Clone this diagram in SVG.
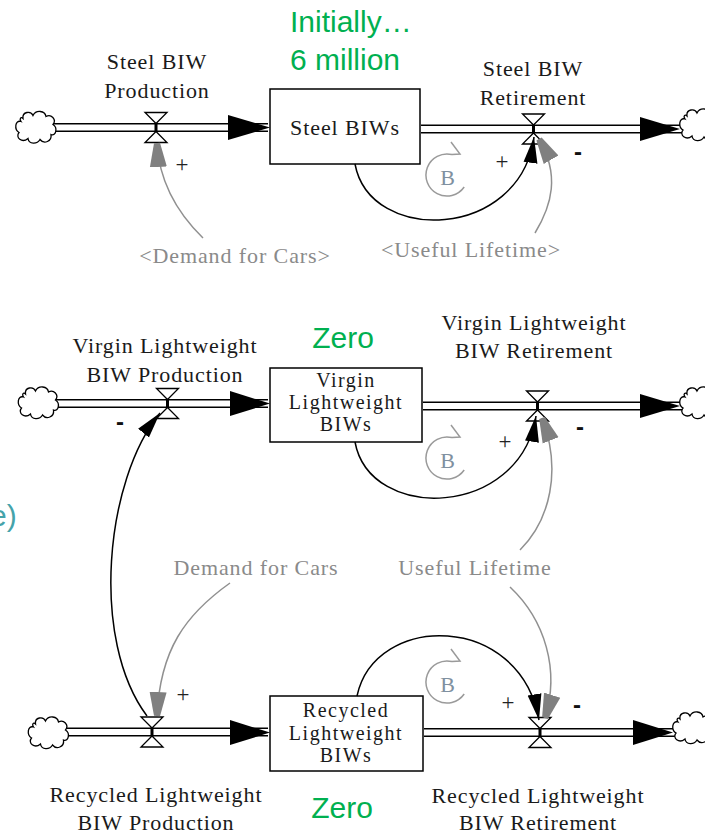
<svg xmlns="http://www.w3.org/2000/svg" xmlns:xlink="http://www.w3.org/1999/xlink" width="705" height="835" viewBox="0 0 705 835">
<style>
.lbl{font-family:"Liberation Serif","Times New Roman",serif;font-size:22px;letter-spacing:0.9px;fill:#1a1a1a;text-anchor:middle}
.bxt{font-family:"Liberation Serif","Times New Roman",serif;font-size:20px;letter-spacing:1.5px;fill:#1a1a1a;text-anchor:middle}
.gry{font-family:"Liberation Serif","Times New Roman",serif;font-size:22px;letter-spacing:0.9px;fill:#8a8a8a;text-anchor:middle}
.grn{font-family:"Liberation Sans",Arial,sans-serif;font-size:30px;fill:#00B050}
.pos{font-family:"Liberation Serif","Times New Roman",serif;font-size:23px;fill:#222;text-anchor:middle}
.neg{font-family:"Liberation Sans",Arial,sans-serif;font-size:24px;font-weight:bold;fill:#111;text-anchor:middle}
.box{fill:#fff;stroke:#000;stroke-width:1.5}
.pipeO{stroke:#000;stroke-width:9;fill:none}
.pipeI{stroke:#fff;stroke-width:6;fill:none}
.fhead{fill:#000}
.lnkB{fill:none;stroke:#000;stroke-width:1.5;marker-end:url(#ahB)}
.lnkG{fill:none;stroke:#909090;stroke-width:1.5;marker-end:url(#ahG)}
.loop{fill:none;stroke:#9a9a9a;stroke-width:1.5}
.loopT{font-family:"Liberation Serif","Times New Roman",serif;font-size:22px;fill:#8090a0;text-anchor:middle}
</style>
<defs>
<marker id="ahB" markerUnits="userSpaceOnUse" markerWidth="28" markerHeight="16" refX="26" refY="8" orient="auto">
<path d="M0,1 L26,8 L0,15 Z" fill="#000"/>
</marker>
<marker id="ahG" markerUnits="userSpaceOnUse" markerWidth="26" markerHeight="18" refX="24" refY="9" orient="auto">
<path d="M0,0.5 L24,6 L24,12 L0,17.5 Z" fill="#808080"/>
</marker>
<g id="cloud">
<path d="M-13,-9 C-14,-16 -5,-17 -3,-12 C0,-18 9,-17 10,-11 C15,-14 21,-8 17,-3 C22,0 20,9 15,7 C16,14 8,17 4,12 C1,17 -7,17 -8,11 C-14,16 -21,10 -17,5 C-22,2 -21,-8 -15,-6 C-17,-9 -15,-11 -13,-9 Z" fill="#fff" stroke="#000" stroke-width="1.3"/>
</g>
<g id="valve">
<path d="M-11,-15 H11 L0,-4 Z M-11,15 H11 L0,4 Z" fill="#fff" stroke="#000" stroke-width="1.3"/>
<rect x="-1.5" y="-4.5" width="3" height="9" fill="#000"/>
</g>
<g id="loopB">
<path class="loop" d="M17.2,12 A21,21 0 1 1 5,-20.4 L13,-21 L4,-33"/>
<text class="loopT" x="0.5" y="10">B</text>
</g>
</defs>
<rect width="705" height="835" fill="#fff"/>

<g id="flows">
<line class="pipeO" x1="50" y1="127.5" x2="268" y2="127.5"/><line class="pipeI" x1="50" y1="127.5" x2="268" y2="127.5"/>
<line class="pipeO" x1="421" y1="129" x2="685" y2="129"/><line class="pipeI" x1="421" y1="129" x2="685" y2="129"/>
<line class="pipeO" x1="52" y1="403.5" x2="268" y2="403.5"/><line class="pipeI" x1="52" y1="403.5" x2="268" y2="403.5"/>
<line class="pipeO" x1="423" y1="406" x2="685" y2="406"/><line class="pipeI" x1="423" y1="406" x2="685" y2="406"/>
<line class="pipeO" x1="62" y1="732" x2="268" y2="732"/><line class="pipeI" x1="62" y1="732" x2="268" y2="732"/>
<line class="pipeO" x1="424" y1="732.5" x2="678" y2="732.5"/><line class="pipeI" x1="424" y1="732.5" x2="678" y2="732.5"/>
<polygon class="fhead" points="228,115 270,127.5 228,140"/>
<polygon class="fhead" points="640,117 680,129 640,141"/>
<polygon class="fhead" points="230,391 270,403.5 230,416"/>
<polygon class="fhead" points="640,394 680,406 640,418"/>
<polygon class="fhead" points="230,720 270,732.5 230,745"/>
<polygon class="fhead" points="633,720 673,732.5 633,745"/>
</g>

<g id="clouds">
<use xlink:href="#cloud" x="36" y="127.5"/>
<use xlink:href="#cloud" x="700" y="125"/>
<use xlink:href="#cloud" x="38.5" y="403"/>
<use xlink:href="#cloud" x="700" y="403"/>
<use xlink:href="#cloud" x="48.5" y="733"/>
<use xlink:href="#cloud" x="693" y="728"/>
</g>

<g id="green-notes">
<text class="grn" x="290" y="32">Initially…</text>
<text class="grn" x="290" y="70">6 million</text>
<text class="grn" x="343" y="348" text-anchor="middle" font-size="29">Zero</text>
<text class="grn" x="342" y="818" text-anchor="middle" font-size="29">Zero</text>
<text class="grn" x="-10" y="526" style="fill:#45A3AA">e)</text>
</g>

<g id="steel-production">
<use xlink:href="#valve" x="156" y="127.5"/>
<text class="lbl" x="157" y="69">Steel BIW</text>
<text class="lbl" x="157" y="98">Production</text>
</g>
<g id="steel-biws">
<rect class="box" x="270" y="89" width="150" height="75"/>
<text class="lbl" x="345" y="135">Steel BIWs</text>
</g>
<g id="steel-retirement">
<use xlink:href="#valve" x="533.5" y="129"/>
<text class="lbl" x="533" y="76">Steel BIW</text>
<text class="lbl" x="533" y="105">Retirement</text>
</g>
<g id="demand-shadow">
<text class="gry" x="235" y="263">&lt;Demand for Cars&gt;</text>
</g>
<g id="lifetime-shadow">
<text class="gry" x="471" y="257">&lt;Useful Lifetime&gt;</text>
</g>

<g id="virgin-production">
<use xlink:href="#valve" x="167.5" y="403.5"/>
<text class="lbl" x="165" y="353">Virgin Lightweight</text>
<text class="lbl" x="165" y="382">BIW Production</text>
</g>
<g id="virgin-biws">
<rect class="box" x="270" y="368" width="152" height="74"/>
<text class="bxt" x="346" y="387">Virgin</text>
<text class="bxt" x="346" y="409">Lightweight</text>
<text class="bxt" x="346" y="431">BIWs</text>
</g>
<g id="virgin-retirement">
<use xlink:href="#valve" x="537.5" y="406"/>
<text class="lbl" x="534" y="330">Virgin Lightweight</text>
<text class="lbl" x="534" y="358">BIW Retirement</text>
</g>
<g id="demand">
<text class="gry" x="256" y="575">Demand for Cars</text>
</g>
<g id="lifetime">
<text class="gry" x="475" y="575">Useful Lifetime</text>
</g>

<g id="recycled-production">
<use xlink:href="#valve" x="152" y="732"/>
<text class="lbl" x="156" y="802">Recycled Lightweight</text>
<text class="lbl" x="156" y="830">BIW Production</text>
</g>
<g id="recycled-biws">
<rect class="box" x="270" y="696" width="153" height="75"/>
<text class="bxt" x="346" y="717">Recycled</text>
<text class="bxt" x="346" y="739.5">Lightweight</text>
<text class="bxt" x="346" y="762">BIWs</text>
</g>
<g id="recycled-retirement">
<use xlink:href="#valve" x="540" y="732.5"/>
<text class="lbl" x="538" y="803">Recycled Lightweight</text>
<text class="lbl" x="538" y="830">BIW Retirement</text>
</g>

<g id="loops">
<use xlink:href="#loopB" x="447" y="175"/>
<use xlink:href="#loopB" x="447" y="458"/>
<use xlink:href="#loopB" x="447" y="682"/>
</g>

<g id="connectors">
<path class="lnkG" d="M203,238 Q160,196 157,143"/>
<path class="lnkB" d="M355,164 C370,245 520,240 534,137"/>
<path class="lnkG" d="M535,233 C552,205 560,175 539,139"/>
<path class="lnkB" d="M355,442 C370,523 520,518 536,416"/>
<path class="lnkG" d="M520,550 C550,520 562,470 542,418"/>
<path class="lnkB" d="M147,716 C90,640 105,480 160,413"/>
<path class="lnkG" d="M230,583 C185,615 160,650 157,716"/>
<path class="lnkB" d="M357,696 C375,612 520,612 539,720"/>
<path class="lnkG" d="M510,587 C545,620 560,670 545,718"/>
</g>

<g id="polarities">
<text class="pos" x="182" y="172">+</text>
<text class="pos" x="502" y="169">+</text>
<text class="neg" x="578" y="160">-</text>
<text class="neg" x="120" y="430">-</text>
<text class="pos" x="505" y="449">+</text>
<text class="neg" x="580" y="435">-</text>
<text class="pos" x="183" y="702">+</text>
<text class="pos" x="508" y="710">+</text>
<text class="neg" x="577" y="713">-</text>
</g>
</svg>
